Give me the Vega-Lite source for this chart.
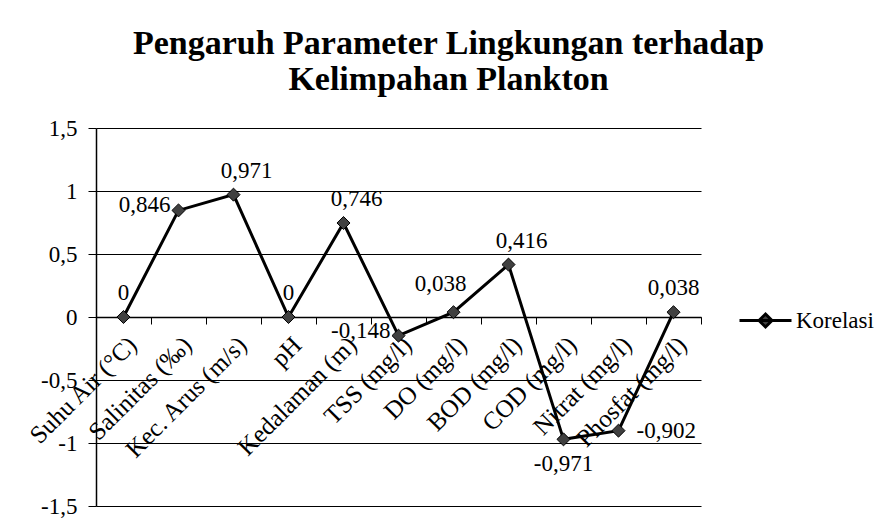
{
  "$schema": "https://vega.github.io/schema/vega-lite/v6.json",
  "width": 605,
  "height": 378,
  "autosize": "none",
  "padding": {"left": 96, "top": 128, "right": 174, "bottom": 20},
  "background": "white",
  "config": {
    "locale": {"number": {"decimal": ",", "thousands": ".", "grouping": [3], "currency": ["", ""], "minus": "-"}},
    "font": "Liberation Serif, Times New Roman, serif",
    "view": {"stroke": null}
  },
  "title": {
    "text": ["Pengaruh Parameter Lingkungan terhadap", "Kelimpahan Plankton"],
    "font": "Liberation Serif, Times New Roman, serif",
    "fontSize": 34,
    "fontWeight": "bold",
    "color": "black",
    "anchor": "middle",
    "dx": 50,
    "offset": 20,
    "lineHeight": 36
  },
  "data": {
    "values": [
      {"parameter": "Suhu Air (°C)", "value": 0},
      {"parameter": "Salinitas  (‰)", "value": 0.846},
      {"parameter": "Kec. Arus (m/s)", "value": 0.971},
      {"parameter": "pH", "value": 0},
      {"parameter": "Kedalaman (m)", "value": 0.746},
      {"parameter": "TSS (mg/l)", "value": -0.148},
      {"parameter": "DO (mg/l)", "value": 0.038},
      {"parameter": "BOD (mg/l)", "value": 0.416},
      {"parameter": "COD (mg/l)", "value": -0.971},
      {"parameter": "Nitrat (mg/l)", "value": -0.902},
      {"parameter": "Phosfat (mg/l)", "value": 0.038}
    ]
  },
  "encoding": {
    "x": {
      "field": "parameter",
      "type": "nominal",
      "sort": null,
      "scale": {"type": "band", "paddingInner": 0, "paddingOuter": 0},
      "axis": {
        "title": null,
        "orient": "bottom",
        "offset": -189,
        "labelAngle": -45,
        "tickBand": "extent",
        "domainColor": "black",
        "domainWidth": 1.5,
        "tickColor": "black",
        "tickSize": 7,
        "labelFont": "Liberation Serif, Times New Roman, serif",
        "labelFontSize": 25,
        "labelColor": "black",
        "labelPadding": 8,
        "labelLimit": 0,
        "labelOverlap": false,
        "grid": false
      }
    },
    "y": {
      "field": "value",
      "type": "quantitative",
      "scale": {"domain": [-1.5, 1.5], "nice": false},
      "axis": {
        "title": null,
        "values": [-1.5, -1, -0.5, 0, 0.5, 1, 1.5],
        "format": "~g",
        "grid": true,
        "gridColor": "black",
        "gridWidth": 1,
        "gridOpacity": 1,
        "domainColor": "black",
        "domainWidth": 1.5,
        "tickColor": "black",
        "tickSize": 8,
        "labelFont": "Liberation Serif, Times New Roman, serif",
        "labelFontSize": 23,
        "labelColor": "black",
        "labelPadding": 11
      }
    }
  },
  "layer": [
    {
      "mark": {"type": "line", "strokeWidth": 3},
      "encoding": {
        "stroke": {
          "datum": "Korelasi",
          "scale": {"range": ["black"]},
          "legend": {
            "title": null,
            "orient": "none",
            "legendX": 642,
            "legendY": 165,
            "symbolType": "M-1,0L1,0M0,-0.25L0.25,0L0,0.25L-0.25,0Z",
            "symbolSize": 2704,
            "symbolStrokeWidth": 3,
            "symbolFillColor": "#404040",
            "symbolStrokeColor": "black",
            "labelFont": "Liberation Serif, Times New Roman, serif",
            "labelFontSize": 23,
            "labelColor": "black",
            "labelOffset": 3
          }
        }
      }
    },
    {
      "mark": {"type": "point", "shape": "diamond", "filled": true, "fill": "#404040", "stroke": "black", "strokeWidth": 1, "size": 170, "opacity": 1}
    },
    {
      "transform": [{"filter": {"field": "parameter", "oneOf": ["Suhu Air (°C)", "pH", "Phosfat (mg/l)"]}}],
      "mark": {"type": "text", "font": "Liberation Serif, Times New Roman, serif", "fontSize": 23, "color": "black", "dy": -24, "align": "center"},
      "encoding": {"text": {"field": "value", "type": "quantitative", "format": ".3~f"}}
    },
    {
      "transform": [{"filter": {"field": "parameter", "oneOf": ["Kec. Arus (m/s)", "Kedalaman (m)", "BOD (mg/l)"]}}],
      "mark": {"type": "text", "font": "Liberation Serif, Times New Roman, serif", "fontSize": 23, "color": "black", "dy": -24, "dx": 13, "align": "center"},
      "encoding": {"text": {"field": "value", "type": "quantitative", "format": ".3~f"}}
    },
    {
      "transform": [{"filter": {"field": "parameter", "oneOf": ["DO (mg/l)"]}}],
      "mark": {"type": "text", "font": "Liberation Serif, Times New Roman, serif", "fontSize": 23, "color": "black", "dy": -28, "dx": -13, "align": "center"},
      "encoding": {"text": {"field": "value", "type": "quantitative", "format": ".3~f"}}
    },
    {
      "transform": [{"filter": {"field": "parameter", "oneOf": ["Salinitas  (‰)", "TSS (mg/l)"]}}],
      "mark": {"type": "text", "font": "Liberation Serif, Times New Roman, serif", "fontSize": 23, "color": "black", "dy": -5, "dx": -8, "align": "right"},
      "encoding": {"text": {"field": "value", "type": "quantitative", "format": ".3~f"}}
    },
    {
      "transform": [{"filter": {"field": "parameter", "oneOf": ["COD (mg/l)"]}}],
      "mark": {"type": "text", "font": "Liberation Serif, Times New Roman, serif", "fontSize": 23, "color": "black", "dy": 25, "align": "center"},
      "encoding": {"text": {"field": "value", "type": "quantitative", "format": ".3~f"}}
    },
    {
      "transform": [{"filter": {"field": "parameter", "oneOf": ["Nitrat (mg/l)"]}}],
      "mark": {"type": "text", "font": "Liberation Serif, Times New Roman, serif", "fontSize": 23, "color": "black", "dx": 18, "align": "left"},
      "encoding": {"text": {"field": "value", "type": "quantitative", "format": ".3~f"}}
    }
  ]
}
